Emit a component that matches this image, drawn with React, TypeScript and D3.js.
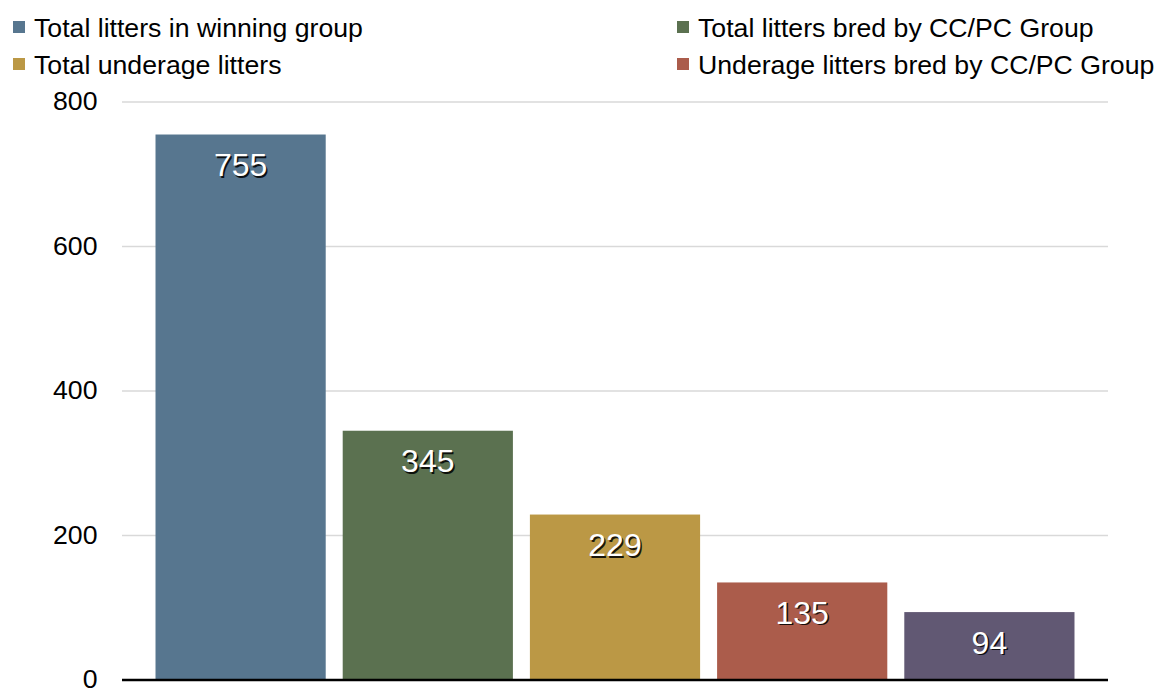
import React from "react";
import * as d3 from "d3";

const categories = [
  "Total litters in winning group",
  "Total litters bred by CC/PC Group",
  "Total underage litters",
  "Underage litters bred by CC/PC Group",
  "Other",
];
const values = [755, 345, 229, 135, 94];
const colors = ["#57768f", "#5b7150", "#bb9845", "#ab5c4b", "#615873"];
const yTicks = [0, 200, 400, 600, 800];
const legendItems = [0, 1, 2, 3];

const W = 1156;
const H = 689;
const left = 122;
const right = 1108;
const top = 102;
const bottom = 680;
const font = "Liberation Sans, Arial, sans-serif";

export default function App() {
  const x = d3
    .scaleBand<string>()
    .domain(categories)
    .range([left, right])
    .paddingInner(0.0908)
    .paddingOuter(0.179);
  const y = d3.scaleLinear().domain([0, 800]).range([bottom, top]);

  const legendPos = (i: number) => {
    const col = i === 0 || i === 2 ? 0 : 1;
    const row = i < 2 ? 0 : 1;
    return { lx: col === 0 ? 13 : 677, ly: row === 0 ? 27 : 64 };
  };

  return (
    <svg
      width={W}
      height={H}
      style={{ position: "absolute", left: 0, top: 0, background: "#fff" }}
    >
      {yTicks.map((t) => (
        <g key={t}>
          {t !== 0 && (
            <line x1={left} x2={right} y1={y(t)} y2={y(t)} stroke="#d9d9d9" strokeWidth={1.3} />
          )}
          <text
            x={97.5}
            y={y(t) + 8}
            textAnchor="end"
            fontFamily={font}
            fontSize={26.67}
            fill="#000"
          >
            {t}
          </text>
        </g>
      ))}
      {categories.map((c, i) => {
        const bx = x(c)!;
        const by = y(values[i]);
        const cx = bx + x.bandwidth() / 2;
        return (
          <g key={c}>
            <rect x={bx} y={by} width={x.bandwidth()} height={bottom - by} fill={colors[i]} />
            <text
              x={cx + 1.5}
              y={by + 43}
              textAnchor="middle"
              fontFamily={font}
              fontSize={32}
              fill="#000"
              opacity={0.85}
            >
              {values[i]}
            </text>
            <text
              x={cx}
              y={by + 41.5}
              textAnchor="middle"
              fontFamily={font}
              fontSize={32}
              fill="#fff"
            >
              {values[i]}
            </text>
          </g>
        );
      })}
      <line x1={left} x2={right} y1={bottom} y2={bottom} stroke="#000" strokeWidth={2.5} />
      {legendItems.map((i) => {
        const { lx, ly } = legendPos(i);
        return (
          <g key={i}>
            <rect x={lx} y={ly - 6} width={12} height={12} fill={colors[i]} />
            <text
              x={lx + 21}
              y={ly + 9.5}
              fontFamily={font}
              fontSize={26.67}
              fill="#000"
            >
              {categories[i]}
            </text>
          </g>
        );
      })}
    </svg>
  );
}
